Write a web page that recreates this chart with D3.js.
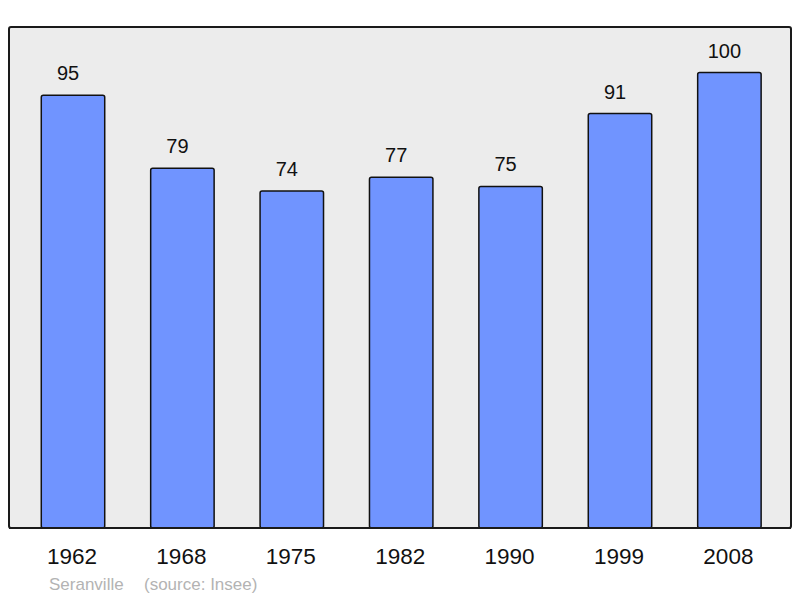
<!DOCTYPE html>
<html>
<head>
<meta charset="utf-8">
<script src="https://cdn.jsdelivr.net/npm/d3@7"></script>
<style>
  body { margin: 0; background: #fff; }
  text { font-family: "Liberation Sans", Arial, sans-serif; }
</style>
</head>
<body>
<div id="chart"></div>
<script>
// population per census year
const years = ["1962", "1968", "1975", "1982", "1990", "1999", "2008"];
const population = [95, 79, 74, 77, 75, 91, 100];
const yMax = 110;

const width = 800, height = 598;
const frame = { left: 9, top: 27, right: 791, bottom: 528 };

const svg = d3.select("#chart").append("svg")
    .attr("width", width)
    .attr("height", height);

// grey plot area
svg.append("rect")
    .attr("x", frame.left)
    .attr("y", frame.top)
    .attr("width", frame.right - frame.left)
    .attr("height", frame.bottom - frame.top)
    .attr("rx", 2)
    .attr("fill", "#ececec")
    .attr("stroke", "#1a1a1a")
    .attr("stroke-width", 2);

const x = d3.scaleBand()
    .domain(years)
    .range([18.3, 784.1])
    .paddingInner(0.42)
    .paddingOuter(0.21);

const y = d3.scaleLinear()
    .domain([0, yMax])
    .range([frame.bottom, frame.top]);

const data = years.map((yr, i) => ({ year: yr, value: population[i] }));

svg.selectAll("rect.bar")
    .data(data)
    .join("rect")
    .attr("class", "bar")
    .attr("x", d => x(d.year))
    .attr("y", d => y(d.value))
    .attr("width", x.bandwidth())
    .attr("height", d => y(0) - y(d.value))
    .attr("rx", 2)
    .attr("fill", "#7094ff")
    .attr("stroke", "#111")
    .attr("stroke-width", 1.5);

// value labels above the bars (sit a little left of centre in the original)
svg.selectAll("text.val")
    .data(data)
    .join("text")
    .attr("class", "val")
    .attr("x", d => x(d.year) + x.bandwidth() / 2 - 5)
    .attr("y", d => y(d.value) - 15)
    .attr("text-anchor", "middle")
    .attr("font-size", 20)
    .attr("fill", "#111")
    .text(d => d.value);

// year labels
svg.selectAll("text.year")
    .data(data)
    .join("text")
    .attr("class", "year")
    .attr("x", d => x(d.year) + x.bandwidth() / 2 - 1)
    .attr("y", 564)
    .attr("text-anchor", "middle")
    .attr("font-size", 22.5)
    .attr("fill", "#111")
    .text(d => d.year);

// bottom line redrawn over bars
svg.append("line")
    .attr("x1", frame.left).attr("x2", frame.right)
    .attr("y1", frame.bottom).attr("y2", frame.bottom)
    .attr("stroke", "#1a1a1a")
    .attr("stroke-width", 2);

// footer
svg.append("text")
    .attr("x", 49)
    .attr("y", 590)
    .attr("font-size", 17)
    .attr("fill", "#b3b3b3")
    .text("Seranville");

svg.append("text")
    .attr("x", 144)
    .attr("y", 590)
    .attr("font-size", 17)
    .attr("fill", "#b3b3b3")
    .text("(source: Insee)");
</script>
</body>
</html>
